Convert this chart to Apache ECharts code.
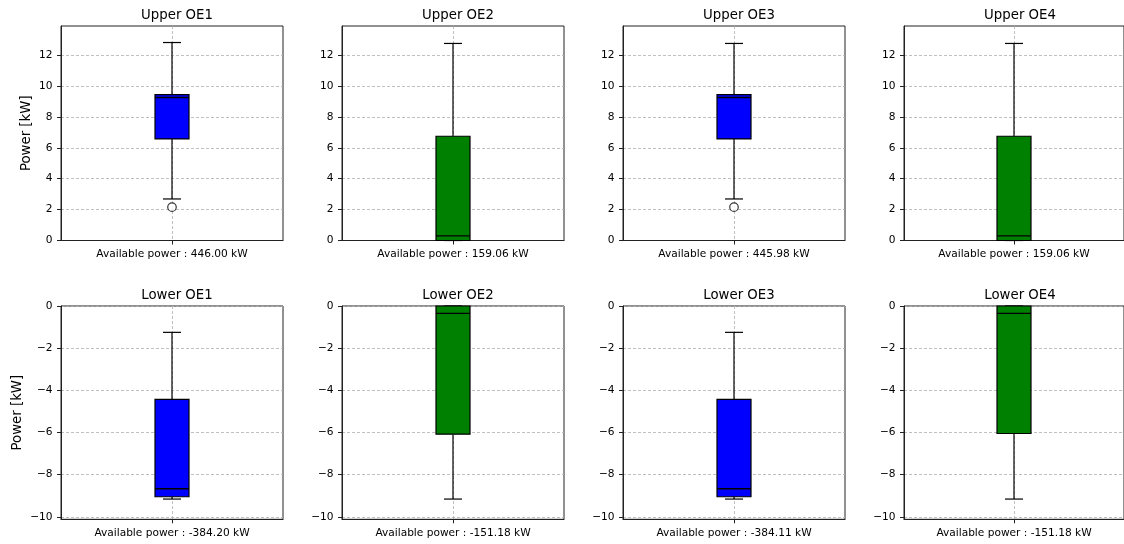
<!DOCTYPE html>
<html>
<head>
<meta charset="utf-8">
<script src="https://cdn.jsdelivr.net/npm/echarts@6/dist/echarts.min.js"></script>
<style>html,body{margin:0;padding:0;background:#fff;}#chart{width:1124px;height:544px;}</style>
</head>
<body>
<div id="chart"></div>
<script>
// ---- data ----
const upperTitles = ['Upper OE1', 'Upper OE2', 'Upper OE3', 'Upper OE4'];
const lowerTitles = ['Lower OE1', 'Lower OE2', 'Lower OE3', 'Lower OE4'];
// [lower whisker, Q1, median, Q3, upper whisker]
const upperStats = [
  [2.69, 6.58, 9.26, 9.45, 12.82],
  [0.00, 0.00, 0.30, 6.75, 12.76],
  [2.69, 6.58, 9.26, 9.45, 12.76],
  [0.00, 0.00, 0.30, 6.75, 12.76]
];
const upperOutliers = [[2.16], [], [2.16], []];
const lowerStats = [
  [-9.16, -9.05, -8.67, -4.43, -1.25],
  [-9.16, -6.08, -0.35, 0.00, 0.00],
  [-9.16, -9.05, -8.67, -4.43, -1.25],
  [-9.16, -6.05, -0.35, 0.00, 0.00]
];
const lowerOutliers = [[], [], [], []];
const upperAvailable = ['446.00', '159.06', '445.98', '159.06'];
const lowerAvailable = ['-384.20', '-151.18', '-384.11', '-151.18'];
const boxColors = ['#0000ff', '#008000', '#0000ff', '#008000'];
const upperTicks = [0, 2, 4, 6, 8, 10, 12];
const lowerTicks = [-10, -8, -6, -4, -2, 0];
const upperRange = [0, 13.89];
const lowerRange = [-10.12, 0];

// ---- layout ----
const FONT = 'DejaVu Sans';
const colLeft = [61, 342, 623, 904];
const gridW = 222;
const rows = [
  {top: 26, height: 214.5},
  {top: 306, height: 213.3}
];
const fmtY = v => (v < 0 ? '\u2212' + Math.abs(v) : String(v));

const grids = [], xAxes = [], yAxes = [], series = [], titles = [];

function renderBox(params, api) {
  const x = api.value(0);
  const lo = api.coord([x, api.value(1)]);
  const q1 = api.coord([x, api.value(2)]);
  const md = api.coord([x, api.value(3)]);
  const q3 = api.coord([x, api.value(4)]);
  const hi = api.coord([x, api.value(5)]);
  const cx = lo[0];
  const bw = 34, cw = 18;
  const line = (x1, y1, x2, y2, w) => ({type: 'line', shape: {x1, y1, x2, y2}, style: {stroke: '#000', lineWidth: w || 1.2}});
  return {
    type: 'group',
    children: [
      line(cx, q3[1], cx, hi[1]),
      line(cx, q1[1], cx, lo[1]),
      line(cx - cw / 2, hi[1], cx + cw / 2, hi[1]),
      line(cx - cw / 2, lo[1], cx + cw / 2, lo[1]),
      {type: 'rect', shape: {x: cx - bw / 2, y: q3[1], width: bw, height: q1[1] - q3[1]},
       style: {fill: api.visual('color'), stroke: '#000', lineWidth: 1.2}},
      line(cx - bw / 2, md[1], cx + bw / 2, md[1], 1.3)
    ]
  };
}

function addPanel(r, c, title, stats, outliers, avail, range, ticks) {
  const idx = grids.length;
  grids.push({left: colLeft[c], top: rows[r].top, width: gridW, height: rows[r].height,
    show: true, borderColor: '#222', borderWidth: 1, backgroundColor: '#fff'});
  titles.push({text: title, left: colLeft[c] + gridW / 2, top: rows[r].top - 22, textAlign: 'center',
    textStyle: {fontFamily: FONT, fontSize: 13.3, fontWeight: 'normal', color: '#000'}});
  xAxes.push({type: 'value', gridIndex: idx, min: 0, max: 2, interval: 1,
    axisLine: {show: true, onZero: false, lineStyle: {color: '#222', width: 1}},
    axisTick: {show: true, length: 4, customValues: [1], lineStyle: {color: '#222'}},
    axisLabel: {customValues: [1], margin: 8, fontFamily: FONT, fontSize: 10.6, color: '#000',
      formatter: () => 'Available power : ' + avail + ' kW'},
    splitLine: {show: true, lineStyle: {color: '#b0b0b0', type: [3, 2], width: 0.8}}});
  yAxes.push({type: 'value', gridIndex: idx, min: range[0], max: range[1],
    name: c === 0 ? 'Power [kW]' : '', nameLocation: 'middle', nameGap: r === 0 ? 28 : 37,
    nameTextStyle: {fontFamily: FONT, fontSize: 13.3, color: '#000'},
    axisLine: {show: true, onZero: false, lineStyle: {color: '#222', width: 1}},
    axisTick: {show: true, length: 4, customValues: ticks, lineStyle: {color: '#222'}},
    axisLabel: {customValues: ticks, margin: 8.5, fontFamily: FONT, fontSize: 10.6, color: '#000', formatter: fmtY},
    splitLine: {show: true, lineStyle: {color: '#b0b0b0', type: [3, 2], width: 0.8}}});
  series.push({type: 'custom', xAxisIndex: idx, yAxisIndex: idx, renderItem: renderBox,
    itemStyle: {color: boxColors[c]}, silent: true, z: 3,
    encode: {x: 0, y: [1, 2, 3, 4, 5]},
    data: [[1].concat(stats)]});
  if (outliers.length) {
    series.push({type: 'scatter', xAxisIndex: idx, yAxisIndex: idx, symbol: 'circle', symbolSize: 8.5,
      itemStyle: {color: '#fff', borderColor: '#000', borderWidth: 1.2}, silent: true, z: 4,
      data: outliers.map(v => [1, v])});
  }
}

for (let c = 0; c < 4; c++) addPanel(0, c, upperTitles[c], upperStats[c], upperOutliers[c], upperAvailable[c], upperRange, upperTicks);
for (let c = 0; c < 4; c++) addPanel(1, c, lowerTitles[c], lowerStats[c], lowerOutliers[c], lowerAvailable[c], lowerRange, lowerTicks);

const chart = echarts.init(document.getElementById('chart'), null, {renderer: 'canvas'});
chart.setOption({
  animation: false,
  backgroundColor: '#fff',
  title: titles,
  grid: grids,
  xAxis: xAxes,
  yAxis: yAxes,
  series: series
});
</script>
</body>
</html>
